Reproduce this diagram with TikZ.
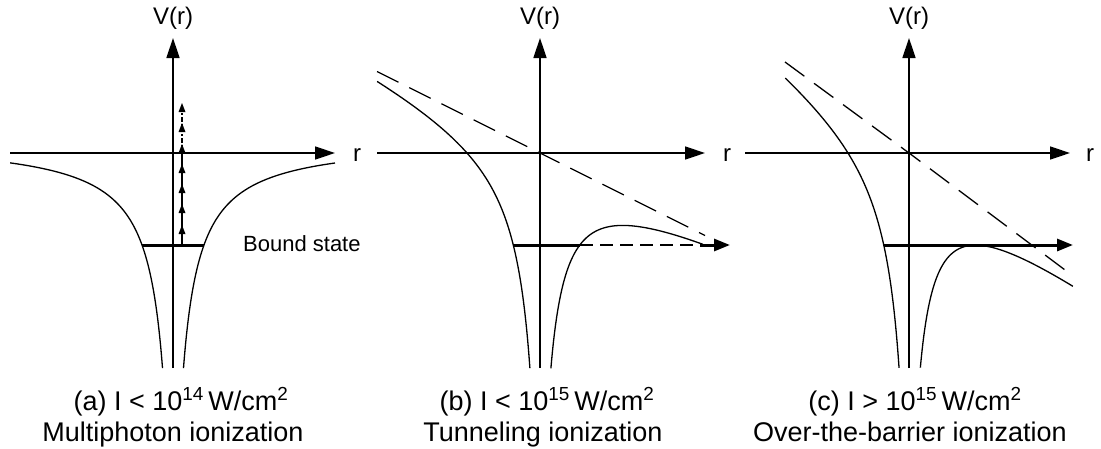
\documentclass[tikz,border=0pt]{standalone}
\usepackage{fontspec}
\setmainfont{Liberation Sans}
\usetikzlibrary{arrows.meta}
\tikzset{
  declare function={hpot(\d)=4040/(\d+7.15)-13.9;},
  axisarr/.style={-{Triangle[length=20pt,width=13pt]}, line width=1.5pt},
  potline/.style={line width=1.3pt, smooth, samples=120},
  fieldline/.style={line width=1.3pt, dash pattern=on 24pt off 12pt},
  boundline/.style={line width=3pt},
  boundarr/.style={-{Triangle[length=16pt,width=12pt]}, line width=3pt},
  axlab/.style={font=\fontsize{24}{28}\selectfont, inner sep=0pt},
  bndlab/.style={font=\fontsize{22}{26}\selectfont, inner sep=0pt},
  caplab/.style={font=\fontsize{27}{32}\selectfont, inner sep=0pt},
}

\begin{document}
\begin{tikzpicture}[x=1pt,y=-1pt]
\useasboundingbox (0,0) rectangle (1101,448);
% origins of the three panels
\coordinate (Oa) at (173,153);
\coordinate (Ob) at (540,153);
\coordinate (Oc) at (909,153);

% (a) multiphoton
\draw[axisarr] (173,368) -- (173,38) coordinate (Va);
\draw[axisarr] (10,153) -- (335,153) coordinate (Ra);
\node[axlab, anchor=base] (vla) at (173,24) {V(r)};
\node[axlab, anchor=base] (rla) at (357,161) {r};
\draw[potline] plot[domain=2.351:5.094] ({173-exp(\x)},{153+hpot(exp(\x))});
\draw[potline] plot[domain=2.351:5.088] ({173+exp(\x)},{153+hpot(exp(\x))});
\draw[boundline] (142,245) -- (204,245);
\draw[line width=1.3pt] (182,245) -- (182,153);
\draw[line width=1.3pt, dash pattern=on 5pt off 2pt on 1.5pt off 2pt] (182,153) -- (182,105);
\foreach \t in {103,123,144,164,184,204,225}
  \fill (182,\t) -- ++(-3.5,9) -- ++(7,0) -- cycle;
\node[bndlab, anchor=base west] (bnd) at (243,251) {Bound state};

% (b) tunneling
\draw[axisarr] (540,368) -- (540,38) coordinate (Vb);
\draw[axisarr] (377,153) -- (705,153) coordinate (Rb);
\node[axlab, anchor=base] (vlb) at (540,24) {V(r)};
\node[axlab, anchor=base] (rlb) at (727,161) {r};
\draw[fieldline] (377,71.5) -- (Ob) -- (705,235.5);
\draw[potline] plot[domain=2.313:5.094] ({540-exp(\x)},{153+hpot(exp(\x))-0.5*exp(\x)});
\draw[potline] plot[domain=2.389:5.094] ({540+exp(\x)},{153+hpot(exp(\x))+0.5*exp(\x)});
\draw[boundline] (513,245) -- (580,245);
\draw[line width=2pt, dash pattern=on 13pt off 7pt] (580,245) -- (703,245);
\draw[boundarr] (700,245) -- (730,245);

% (c) over the barrier
\draw[axisarr] (909,368) -- (909,38) coordinate (Vc);
\draw[axisarr] (745,153) -- (1070,153) coordinate (Rc);
\node[axlab, anchor=base] (vlc) at (909,24) {V(r)};
\node[axlab, anchor=base] (rlc) at (1090,161) {r};
\draw[fieldline] (785,62) -- (Oc) -- (1073,276);
\draw[potline] plot[domain=2.298:4.820] ({909-exp(\x)},{153+hpot(exp(\x))-0.743*exp(\x)});
\draw[potline] plot[domain=2.430:5.100] ({909+exp(\x)},{154.8+hpot(exp(\x))+0.743*exp(\x)});
\draw[boundarr] (884,245) -- (1073,245);

% captions
\node[caplab, anchor=base] (capa) at (181,410) {(a) I < 10\textsuperscript{14}\,W/cm\textsuperscript{2}};
\node[caplab, anchor=base] (tita) at (173,441) {Multiphoton ionization};
\node[caplab, anchor=base] (capb) at (547,410) {(b) I < 10\textsuperscript{15}\,W/cm\textsuperscript{2}};
\node[caplab, anchor=base] (titb) at (543,441) {Tunneling ionization};
\node[caplab, anchor=base] (capc) at (915,410) {(c) I > 10\textsuperscript{15}\,W/cm\textsuperscript{2}};
\node[caplab, anchor=base] (titc) at (910,441) {Over-the-barrier ionization};
\end{tikzpicture}
\end{document}
